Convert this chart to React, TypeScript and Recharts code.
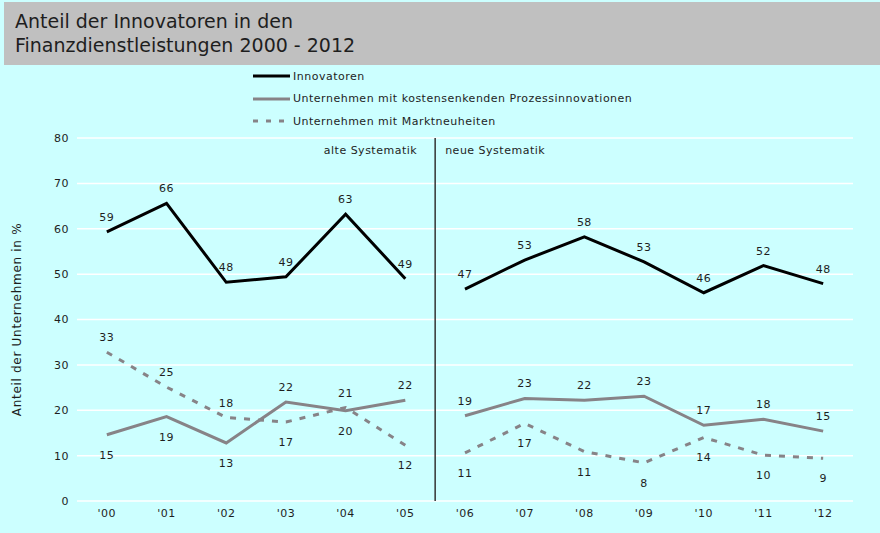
import React from 'react'
import { LineChart, Line, XAxis, YAxis, CartesianGrid, ReferenceLine, LabelList, Legend } from 'recharts'

const years = ["'00", "'01", "'02", "'03", "'04", "'05", "'06", "'07", "'08", "'09", "'10", "'11", "'12"]
const innovatoren = [59.3, 65.6, 48.2, 49.4, 63.2, 49.0, 46.7, 53.1, 58.2, 52.7, 45.9, 51.9, 47.9]
const prozess = [14.6, 18.6, 12.8, 21.8, 19.9, 22.2, 18.8, 22.6, 22.2, 23.1, 16.7, 18.0, 15.4]
const markt = [32.8, 25.1, 18.4, 17.4, 20.6, 12.3, 10.6, 17.1, 10.9, 8.4, 14.0, 10.1, 9.4]
const yTicks = [0, 10, 20, 30, 40, 50, 60, 70, 80]
const lastAlt = 5 // '05 is the last year of the old classification

// which points get their value label under the line
const prozessBelow = [0, 1, 2, 4]
const marktBelow = [3, 5, 6, 7, 8, 9, 10, 11, 12]

const FONT = '"DejaVu Sans", Verdana, sans-serif'
const TEXT = '#1e1e1e'
const BLACK = '#000000'
const GRAY = '#878387'
const SPACING = 0.5

const split = (arr: number[], alt: boolean) =>
  arr.map((v, i) => ((alt ? i <= lastAlt : i > lastAlt) ? v : null))

const data = years.map((y, i) => ({
  i,
  year: y,
  innovAlt: split(innovatoren, true)[i],
  innovNeu: split(innovatoren, false)[i],
  prozAlt: split(prozess, true)[i],
  prozNeu: split(prozess, false)[i],
  marktAlt: split(markt, true)[i],
  marktNeu: split(markt, false)[i],
}))

function makeLabel(below: number[]) {
  return (props: any) => {
    const { value, index } = props
    if (value == null) return null
    const x = props.x ?? props.viewBox?.x
    const y = props.y ?? props.viewBox?.y
    const under = below.includes(index)
    return (
      <text
        x={x}
        y={under ? y + 24 : y - 11}
        textAnchor="middle"
        fontSize={11}
        fontFamily={FONT}
        letterSpacing={SPACING}
        fill={TEXT}
      >
        {Math.round(value)}
      </text>
    )
  }
}

const legendItems = [
  { name: 'Innovatoren', color: BLACK, dash: undefined },
  { name: 'Unternehmen mit kostensenkenden Prozessinnovationen', color: GRAY, dash: undefined },
  { name: 'Unternehmen mit Marktneuheiten', color: GRAY, dash: '5 8' },
]

function ChartLegend() {
  return (
    <div style={{ fontFamily: FONT, fontSize: 11, color: TEXT, letterSpacing: SPACING }}>
      {legendItems.map((it) => (
        <div key={it.name} style={{ display: 'flex', alignItems: 'center', height: 22.5 }}>
          <svg width={40} height={6}>
            <line x1={1} y1={3} x2={38} y2={3} stroke={it.color} strokeWidth={3} strokeDasharray={it.dash} />
          </svg>
          <span style={{ marginLeft: 1 }}>{it.name}</span>
        </div>
      ))}
    </div>
  )
}

export default function App() {
  const lineProps = { type: 'linear' as const, dot: false, strokeWidth: 3, isAnimationActive: false, connectNulls: false }
  const tickStyle = { fontSize: 11, fontFamily: FONT, fill: TEXT, letterSpacing: SPACING }
  return (
    <div style={{ position: 'absolute', left: 0, top: 0, width: 880, height: 533, background: '#ccffff', overflow: 'hidden' }}>
      <div
        style={{
          position: 'absolute',
          left: 4,
          top: 2,
          width: 876,
          height: 63,
          background: '#c0c0c0',
          fontFamily: FONT,
          fontSize: 19,
          lineHeight: '24px',
          color: TEXT,
          boxSizing: 'border-box',
          padding: '7px 0 0 11px',
        }}
      >
        Anteil der Innovatoren in den
        <br />
        Finanzdienstleistungen 2000 - 2012
      </div>
      <LineChart width={880} height={533} data={data} margin={{ top: 138, right: 27, bottom: 2, left: 0 }}>
        <CartesianGrid vertical={false} stroke="#ffffff" strokeWidth={1.5} />
        <XAxis
          dataKey="i"
          type="number"
          domain={[-0.5, 12.5]}
          ticks={years.map((_, i) => i)}
          tickFormatter={(i: number) => years[i]}
          axisLine={false}
          tickLine={false}
          tick={tickStyle}
          height={30}
        />
        <YAxis
          domain={[0, 80]}
          ticks={yTicks}
          axisLine={false}
          tickLine={false}
          width={77}
          tick={tickStyle}
          label={(p: any) => {
            const vb = p.viewBox
            const cy = vb.y + vb.height / 2
            return (
              <text
                x={17}
                y={cy}
                transform={`rotate(-90 17 ${cy})`}
                textAnchor="middle"
                dominantBaseline="central"
                fontSize={12}
                letterSpacing={0.7}
                fontFamily={FONT}
                fill={TEXT}
              >
                Anteil der Unternehmen in %
              </text>
            )
          }}
        />
        <ReferenceLine
          x={lastAlt + 0.5}
          stroke="#333333"
          strokeWidth={1.5}
          label={(p: any) => {
            const vb = p.viewBox
            return (
              <g fontSize={11} fontFamily={FONT} fill={TEXT} letterSpacing={SPACING}>
                <text x={vb.x - 18} y={vb.y + 16} textAnchor="end">alte Systematik</text>
                <text x={vb.x + 10} y={vb.y + 16} textAnchor="start">neue Systematik</text>
              </g>
            )
          }}
        />
        <Legend
          layout="vertical"
          align="center"
          verticalAlign="middle"
          wrapperStyle={{ top: 65, left: 252, width: 440 }}
          content={() => <ChartLegend />}
        />
        <Line dataKey="marktAlt" stroke={GRAY} strokeDasharray="6 8" {...lineProps}>
          <LabelList dataKey="marktAlt" content={makeLabel(marktBelow)} />
        </Line>
        <Line dataKey="marktNeu" stroke={GRAY} strokeDasharray="6 8" {...lineProps}>
          <LabelList dataKey="marktNeu" content={makeLabel(marktBelow)} />
        </Line>
        <Line dataKey="prozAlt" stroke={GRAY} {...lineProps}>
          <LabelList dataKey="prozAlt" content={makeLabel(prozessBelow)} />
        </Line>
        <Line dataKey="prozNeu" stroke={GRAY} {...lineProps}>
          <LabelList dataKey="prozNeu" content={makeLabel(prozessBelow)} />
        </Line>
        <Line dataKey="innovAlt" stroke={BLACK} {...lineProps}>
          <LabelList dataKey="innovAlt" content={makeLabel([])} />
        </Line>
        <Line dataKey="innovNeu" stroke={BLACK} {...lineProps}>
          <LabelList dataKey="innovNeu" content={makeLabel([])} />
        </Line>
      </LineChart>
    </div>
  )
}
